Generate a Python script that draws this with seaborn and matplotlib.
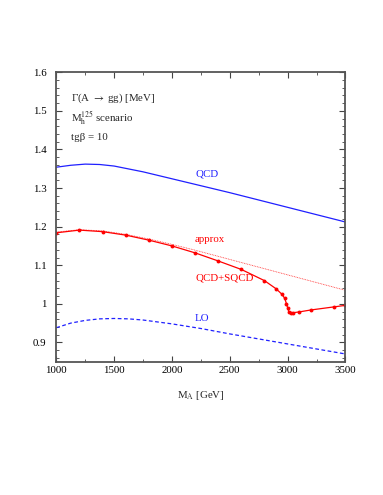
import matplotlib
matplotlib.use("Agg")
import matplotlib.pyplot as plt
from matplotlib.ticker import MultipleLocator, FixedLocator, FixedFormatter
import seaborn as sns

# Gamma(A -> gg) in MeV vs M_A in GeV
MA_QCD = [1000, 1125, 1250, 1375, 1500, 1750, 2000, 2250, 2500, 2750, 3000, 3250, 3500]
QCD = [1.354, 1.359, 1.362, 1.361, 1.357, 1.342, 1.324, 1.306, 1.288, 1.269, 1.250, 1.231, 1.212]

MA_LO = [1000, 1125, 1250, 1375, 1500, 1625, 1750, 2000, 2250, 2500, 2750, 3000, 3250, 3500]
LO = [0.938, 0.950, 0.957, 0.961, 0.962, 0.961, 0.958, 0.948, 0.936, 0.922, 0.909, 0.896, 0.883, 0.870]

MA_APPROX = [1000, 1200, 1400, 1600, 1800, 2000, 2200, 2400, 2600, 2800, 3000, 3200, 3400, 3500]
APPROX = [1.186, 1.192, 1.189, 1.180, 1.168, 1.154, 1.139, 1.123, 1.107, 1.091, 1.075, 1.059, 1.043, 1.035]

MA_SQCD = [1000, 1200, 1400, 1600, 1800, 2000, 2200, 2400, 2600, 2800, 2900, 2950,
           2975, 2990, 3000, 3010, 3030, 3050, 3100, 3200, 3400, 3500]
SQCD = [1.184, 1.191, 1.187, 1.178, 1.165, 1.150, 1.132, 1.111, 1.089, 1.060, 1.039, 1.025,
        1.014, 1.000, 0.990, 0.980, 0.977, 0.977, 0.979, 0.984, 0.992, 0.996]

Y_TICKS = [0.9, 1.0, 1.1, 1.2, 1.3, 1.4, 1.5, 1.6]
Y_LABELS = ["0.9", "1", "1.1", "1.2", "1.3", "1.4", "1.5", "1.6"]
X_TICKS = [1000, 1500, 2000, 2500, 3000, 3500]

BLUE = "#2020ff"
RED = "#ff0000"
FS = 7.8

sns.set_theme(style="ticks")
plt.rcParams["font.family"] = ["Liberation Serif", "DejaVu Serif"]
plt.rcParams["mathtext.fontset"] = "stix"
plt.rcParams["font.size"] = FS

fig = plt.figure(figsize=(3.83, 4.95), dpi=100)
ax = fig.add_axes([0.147, 0.2693, 0.755, 0.5847])

sns.lineplot(x=MA_QCD, y=QCD, ax=ax, color=BLUE, lw=0.9)
sns.lineplot(x=MA_LO, y=LO, ax=ax, color=BLUE, lw=0.9, linestyle=(0, (3, 2)))
sns.lineplot(x=MA_APPROX, y=APPROX, ax=ax, color="#ff3030", lw=0.6, linestyle=(0, (1, 1)))
sns.lineplot(x=MA_SQCD, y=SQCD, ax=ax, color=RED, lw=0.9, marker="o",
             markersize=2.8, markeredgewidth=0)

ax.set_xlim(1000, 3500)
ax.set_ylim(0.85, 1.6)
ax.xaxis.set_major_locator(FixedLocator(X_TICKS))
ax.xaxis.set_minor_locator(MultipleLocator(250))
ax.yaxis.set_major_locator(FixedLocator(Y_TICKS))
ax.yaxis.set_major_formatter(FixedFormatter(Y_LABELS))
ax.yaxis.set_minor_locator(MultipleLocator(0.02))
ax.tick_params(which="both", direction="in", top=True, right=True,
               colors="#444444", labelcolor="black", labelsize=FS)
ax.tick_params(axis="x", which="major", pad=3)
ax.tick_params(axis="y", which="major", pad=7)
ax.tick_params(which="major", length=4, width=0.8)
ax.tick_params(which="minor", length=2, width=0.6)
for s in ax.spines.values():
    s.set_color("#555555")
    s.set_linewidth(1.3)

ax.set_xlabel(r"M$_\mathrm{A}$ [GeV]", fontsize=FS, labelpad=10)

ax.text(0.052, 0.91, r"Γ(A $\rightarrow$ gg) [MeV]", transform=ax.transAxes, fontsize=FS, va="center")
ax.text(0.052, 0.843, r"M$_\mathrm{h}^{125}$ scenario", transform=ax.transAxes, fontsize=FS, va="center")
ax.text(0.052, 0.776, "tgβ = 10", transform=ax.transAxes, fontsize=FS, va="center")

ax.text(2200, 1.337, "QCD", color=BLUE, fontsize=FS, va="center", ha="left")
ax.text(2200, 1.166, "approx", color=RED, fontsize=FS, va="center", ha="left")
ax.text(2200, 1.068, "QCD+SQCD", color=RED, fontsize=FS, va="center", ha="left")
ax.text(2200, 0.961, "LO", color=BLUE, fontsize=FS, va="center", ha="left")

fig.savefig("out.png", dpi=100)
